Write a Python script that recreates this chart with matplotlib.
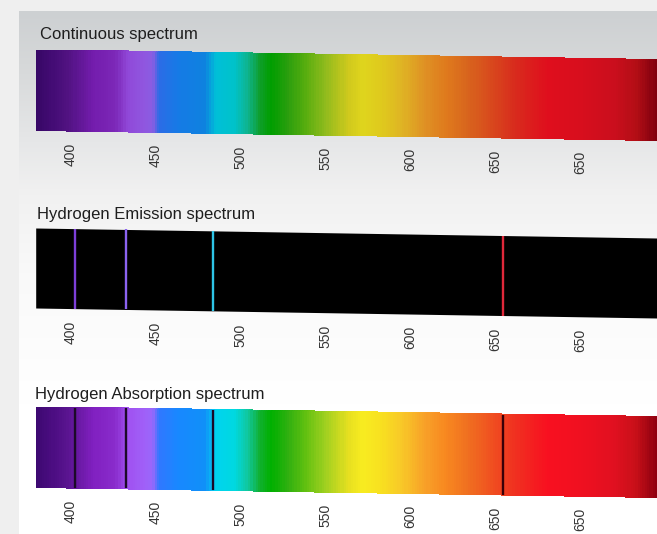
import numpy as np
import matplotlib
matplotlib.use('Agg')
import matplotlib.pyplot as plt
from matplotlib.colors import LinearSegmentedColormap, to_rgb

# wavelength range shown on every strip (nm)
WL_MIN, WL_MAX = 381, 750

# tick positions and the labels printed under them
tick_values = [400, 450, 500, 550, 600, 650, 700, 750]
tick_labels = ['400', '450', '500', '550', '600', '650', '650', '750']

# hydrogen (Balmer) lines as placed on the strips, nm
h_lines = [404, 434, 485, 656]
emission_colors = ['#7d3fd9', '#8b63f0', '#2ec4e6', '#e0283a']
absorption_colors = ['#1c0a28', '#1c0a28', '#1c0a28', '#3a0008']

# colour stops of the visible spectrum (nm, colour)
stop_wl = [381, 390, 400, 415, 428, 435, 445, 450, 454, 465, 481, 487, 498,
           506, 513, 520, 530, 540, 552, 566, 574, 585, 597, 611, 623, 636,
           650, 664, 683, 703, 723, 735, 747, 750]
stop_col = ['#3c0870', '#4a0c80', '#5a1490', '#8020c0', '#8a2ccc', '#a050f0',
            '#a060f8', '#9868fc', '#3078ff', '#1888ff', '#1090f8', '#00d4f0',
            '#00d8e0', '#10c8a0', '#10b030', '#00b000', '#30b010', '#60c010',
            '#a0d020', '#e8e020', '#f8ec20', '#f8e020', '#f8c828', '#f8a028',
            '#f88820', '#f07020', '#f05020', '#f03020', '#f81020', '#f01020',
            '#e01020', '#c81018', '#900010', '#880010']

FONT = ['Liberation Sans Narrow', 'Liberation Sans', 'DejaVu Sans']
W, H = 657, 534
BAR_H = 80      # strip height, px
TILT = 10.1     # strip drops this many px from left to right
GAP = 12        # px between strip and tick labels


def spectrum_cmap(scale=1.0):
    pos = [(w - WL_MIN) / (WL_MAX - WL_MIN) for w in stop_wl]
    cols = [tuple(min(1, c * scale) for c in to_rgb(s)) for s in stop_col]
    return LinearSegmentedColormap.from_list('spec', list(zip(pos, cols)))


def y_top(wl):
    return TILT * (np.asarray(wl) - WL_MIN) / (WL_MAX - WL_MIN)


def add_strip(fig, top_px, title, title_x, title_y, kind):
    left = 35.7
    right = 663.0
    ax = fig.add_axes([left / W, 1 - (top_px + BAR_H + TILT + 1) / H,
                       (right - left) / W, (BAR_H + TILT + 1) / H])
    ax.set_xlim(WL_MIN, WL_MAX)
    ax.set_ylim(BAR_H + TILT + 1, 0)
    ax.axis('off')

    wl = np.linspace(WL_MIN, WL_MAX, 600)
    if kind == 'emission':
        ax.fill_between(wl, y_top(wl), y_top(wl) + BAR_H, color='black', lw=0)
        line_cols = emission_colors
    else:
        X = np.vstack([wl, wl])
        Y = np.vstack([y_top(wl), y_top(wl) + BAR_H])
        C = ((wl[:-1] + wl[1:]) / 2)[None, :]
        scale = 0.9 if kind == 'continuous' else 1.0
        ax.pcolormesh(X, Y, C, cmap=spectrum_cmap(scale), shading='flat',
                      vmin=WL_MIN, vmax=WL_MAX, rasterized=True,
                      edgecolors='face', linewidth=0.3)
        line_cols = absorption_colors if kind == 'absorption' else None

    if line_cols is not None:
        for w, c in zip(h_lines, line_cols):
            yt = float(y_top(w))
            ax.plot([w, w], [yt, yt + BAR_H], color=c, lw=1.7,
                    solid_capstyle='butt')

    for v, lab in zip(tick_values, tick_labels):
        ax.text(v + 1.5, float(y_top(v)) + BAR_H + GAP, lab, rotation=90,
                ha='center', va='top', fontsize=10, color='#353535',
                family=FONT, clip_on=False)

    fig.text(title_x / W, 1 - title_y / H, title, ha='left', va='center',
             fontsize=12, color='#1e1e1e', family=FONT)


fig = plt.figure(figsize=(W / 100, H / 100), dpi=100)
fig.patch.set_facecolor('#efefef')

# panel background: grey at the top fading to white
bg = fig.add_axes([0, 0, 1, 1])
bg.set_xlim(0, W)
bg.set_ylim(H, 0)
bg.axis('off')
grad = LinearSegmentedColormap.from_list(
    'bg', [(0.0, '#cdd0d2'), (0.1, '#d6d8d9'), (0.25, '#e6e7e8'),
           (0.35, '#f1f1f1'), (0.5, '#f9f9f9'), (0.75, '#ffffff'),
           (1.0, '#ffffff')])
bg.imshow(np.linspace(0, 1, 256)[:, None], cmap=grad, aspect='auto',
          extent=[19, W, H, 11], zorder=0)

add_strip(fig, 50, 'Continuous spectrum', 40, 35, 'continuous')
add_strip(fig, 228, 'Hydrogen Emission spectrum', 37, 215, 'emission')
add_strip(fig, 407, 'Hydrogen Absorption spectrum', 35, 394, 'absorption')

fig.savefig('out.png', dpi=100, facecolor=fig.get_facecolor())
